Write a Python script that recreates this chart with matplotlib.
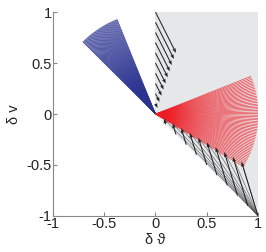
import numpy as np
import matplotlib.pyplot as plt

# fan angles (degrees) and radius
blue_ang = (112.0, 135.0)
red_ang = (21.7, -31.0)
n_blue = 45
n_red = 60
radius = 1.0

# arrow tails along x=0 and along the diagonal, s = 0.1 ... 1.0
s = [0.1, 0.2, 0.3, 0.4, 0.5, 0.6, 0.7, 0.8, 0.9, 1.0]
top_dir = (0.2, -0.4)      # tip = (0.2 s, 0.6 s)
diag_dir = (-0.16, 0.53)   # tip = (0.84 s, -0.47 s)

ticks = [-1, -0.5, 0, 0.5, 1]
tick_labels = ['-1', '-0.5', '0', '0.5', '1']

plt.rcParams['font.family'] = ['Liberation Sans', 'DejaVu Sans']
fig = plt.figure(figsize=(2.66, 2.52), dpi=100)
ax = fig.add_axes([0.199, 0.143, 0.771, 0.809])

# shaded region
ax.fill([0, 0, 1, 1], [0, 1, 1, -1], color='#e6e7e9', zorder=0, lw=0)

# blue fan
for a in np.linspace(blue_ang[0], blue_ang[1], n_blue):
    t = np.radians(a)
    ax.plot([0, radius*np.cos(t)], [0, radius*np.sin(t)], color='#2b3390', lw=0.5)

# red fan
for a in np.linspace(red_ang[0], red_ang[1], n_red):
    t = np.radians(a)
    ax.plot([0, radius*np.cos(t)], [0, radius*np.sin(t)], color='#ee1c24', lw=0.4)

s = np.array(s)
# arrows from the v axis
ax.quiver(np.zeros_like(s), s, top_dir[0]*s, top_dir[1]*s, angles='xy',
          scale_units='xy', scale=1, color='#222222', width=0.005,
          headwidth=3.5, headlength=4.5, headaxislength=4, zorder=3)
# arrows from the diagonal
tipx = s + diag_dir[0]*s
tipy = -s + diag_dir[1]*s
for x, y in zip(tipx, tipy):
    ax.plot([1, x], [-1, y], color='#555555', lw=0.4, zorder=3)
ax.quiver(s, -s, diag_dir[0]*s, diag_dir[1]*s, angles='xy',
          scale_units='xy', scale=1, color='#222222', width=0.005,
          headwidth=3.5, headlength=4.5, headaxislength=4, zorder=3)

ax.set_xlim(-1, 1)
ax.set_ylim(-1, 1)
ax.set_xticks(ticks)
ax.set_xticklabels(tick_labels)
ax.set_yticks(ticks)
ax.set_yticklabels(tick_labels)
ax.tick_params(direction='in', length=3, labelsize=10.5, color='#888888',
               labelcolor='#222222', pad=1)
for side in ['top', 'right']:
    ax.spines[side].set_visible(False)
for side in ['left', 'bottom']:
    ax.spines[side].set_color('#888888')
ax.set_xlabel('\u03b4 \u03d1', fontsize=10.5, labelpad=1, color='#222222')
ax.set_ylabel('\u03b4 v', fontsize=10.5, labelpad=4, color='#222222')

fig.savefig('out.png', dpi=100)
